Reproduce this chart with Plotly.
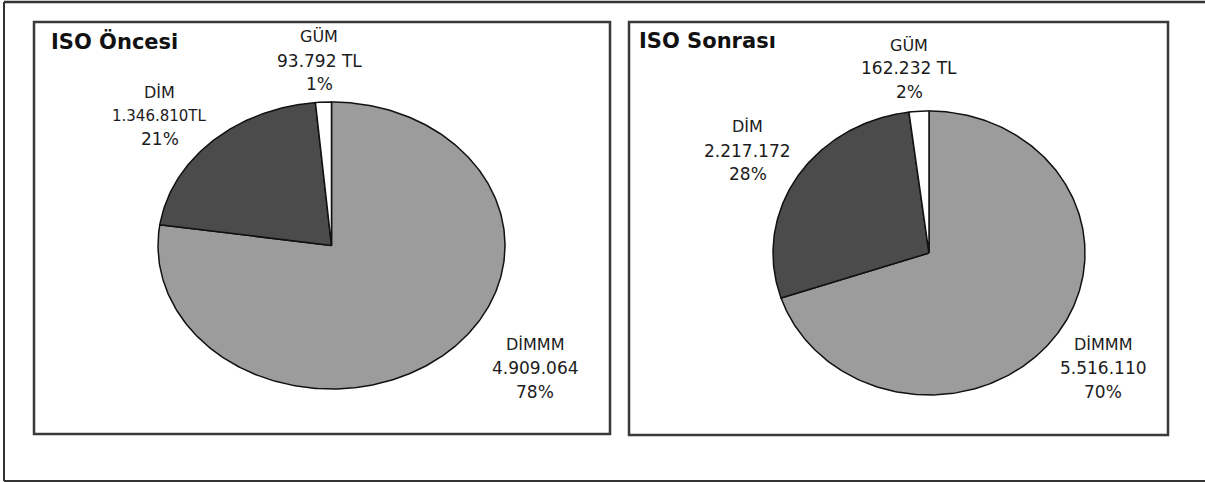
import numpy as np
import plotly.graph_objects as go

# ---- data ----
categories = ["DİMMM", "DİM", "GÜM"]
before_values = [4909064, 1346810, 93792]
after_values = [5516110, 2217172, 162232]
before_value_labels = ["4.909.064", "1.346.810TL", "93.792 TL"]
after_value_labels = ["5.516.110", "2.217.172", "162.232 TL"]
before_pct_labels = ["78%", "21%", "1%"]
after_pct_labels = ["70%", "28%", "2%"]
panel_titles = ["ISO Öncesi", "ISO Sonrası"]
slice_colors = ["#9c9c9c", "#4b4b4b", "#ffffff"]

W, H = 1205, 482
FONT = "DejaVu Sans"
TXT = "#1c1c1c"

def px(x):
    return x / W

def py(y):
    return 1 - y / H

fig = go.Figure()

# ellipse bounding boxes (pixels): left, right, top, bottom
pies = [
    dict(values=before_values, box=(158, 505, 102, 389), ax="x", ay="y"),
    dict(values=after_values, box=(773, 1085, 111, 395), ax="x2", ay="y2"),
]
PAD = 4
for i, p in enumerate(pies):
    vals = np.array(p["values"], dtype=float)
    frac = vals / vals.sum()
    cum = np.concatenate([[0], np.cumsum(frac)])
    for k, cat in enumerate(categories):
        t = np.linspace(cum[k], cum[k + 1], max(3, int(frac[k] * 400)))
        th = 2 * np.pi * t
        xs = np.concatenate([[0], np.sin(th), [0]])
        ys = np.concatenate([[0], np.cos(th), [0]])
        fig.add_trace(go.Scatter(
            x=xs, y=ys, mode="lines", fill="toself",
            fillcolor=slice_colors[k], line=dict(color="#111111", width=1.5),
            name=cat, showlegend=False, hoverinfo="name",
            xaxis=p["ax"], yaxis=p["ay"]))
    l, r, t_, b = p["box"]
    rx = (r - l) / 2
    ry = (b - t_) / 2
    xd = [px(l - PAD), px(r + PAD)]
    yd = [py(b + PAD), py(t_ - PAD)]
    xr = [-1 - PAD / rx, 1 + PAD / rx]
    yr = [-1 - PAD / ry, 1 + PAD / ry]
    sfx = "" if i == 0 else "2"
    fig.layout["xaxis" + sfx] = dict(domain=xd, range=xr, visible=False, fixedrange=True)
    fig.layout["yaxis" + sfx] = dict(domain=yd, range=yr, visible=False, fixedrange=True)

# ---- labels ----
annotations = []
label_pos = [
    # left panel: DİMMM, DİM, GÜM -> (x center, y of first line)
    [(535, 344.5), (159.5, 92), (319, 37)],
    [(1103, 344.5), (747.5, 127), (909, 45)],
]
val_lbls = [before_value_labels, after_value_labels]
pct_lbls = [before_pct_labels, after_pct_labels]
for i in range(2):
    for k, cat in enumerate(categories):
        x0, y0 = label_pos[i][k]
        size_val = 15 if (i == 0 and k == 1) else 17
        lines = [(cat, 16), (val_lbls[i][k], size_val), (pct_lbls[i][k], 17)]
        for j, (txt, sz) in enumerate(lines):
            annotations.append(dict(
                x=px(x0), y=py(y0 + j * 23.5), xref="paper", yref="paper",
                text=txt, showarrow=False, xanchor="center", yanchor="middle",
                font=dict(family=FONT, size=sz, color=TXT)))

title_pos = [(49, 41), (637, 41)]
for i, ttl in enumerate(panel_titles):
    x0, y0 = title_pos[i]
    annotations.append(dict(
        x=px(x0), y=py(y0), xref="paper", yref="paper", text="<b>" + ttl + "</b>",
        showarrow=False, xanchor="left", yanchor="middle",
        font=dict(family=FONT, size=21, color="#111111")))

# ---- frames ----
shapes = []
for (l, t_, r, b) in [(34, 22, 610, 434), (629, 22, 1168, 435)]:
    shapes.append(dict(type="rect", xref="paper", yref="paper",
                       x0=px(l), x1=px(r), y0=py(b), y1=py(t_),
                       line=dict(color="#3a3a3a", width=2.5), layer="above"))
# outer frame (top, left, bottom)
frame_col = "#333333"
shapes.append(dict(type="line", xref="paper", yref="paper", x0=px(4), x1=1.01, y0=py(2), y1=py(2),
                   line=dict(color=frame_col, width=2.5)))
shapes.append(dict(type="line", xref="paper", yref="paper", x0=px(4), x1=px(4), y0=py(2), y1=py(481),
                   line=dict(color=frame_col, width=2)))
shapes.append(dict(type="line", xref="paper", yref="paper", x0=px(4), x1=1.01, y0=py(481), y1=py(481),
                   line=dict(color=frame_col, width=2)))

fig.update_layout(
    width=W, height=H, margin=dict(l=0, r=0, t=0, b=0),
    paper_bgcolor="white", plot_bgcolor="rgba(0,0,0,0)",
    showlegend=False, annotations=annotations, shapes=shapes,
)

fig.write_html("out.html")
